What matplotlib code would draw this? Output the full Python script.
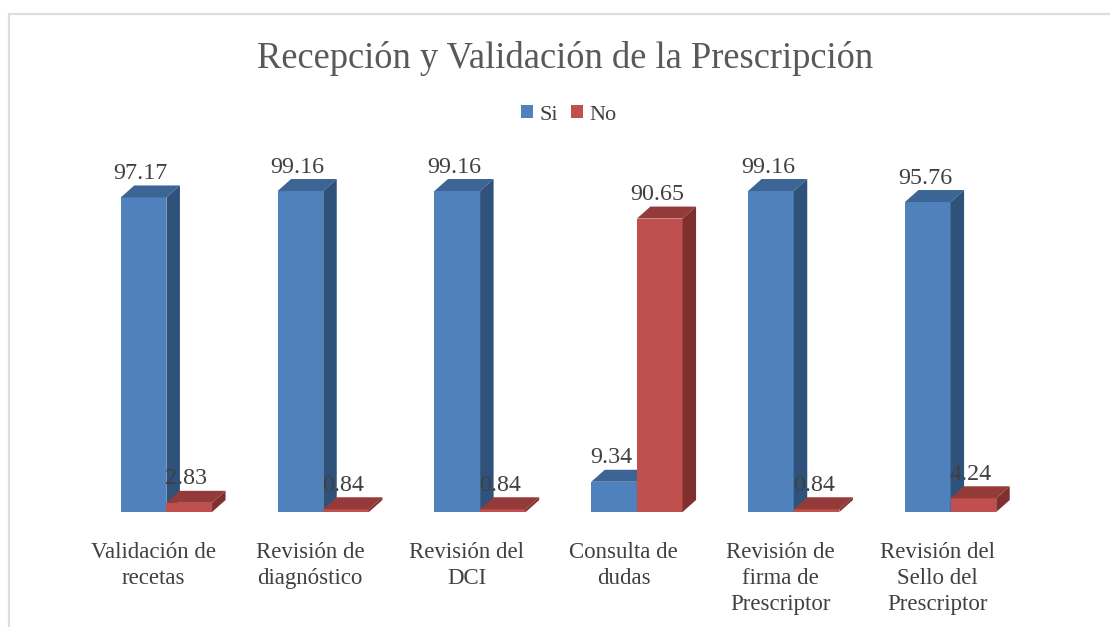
import matplotlib
matplotlib.use("Agg")
import matplotlib.pyplot as plt
from matplotlib.patches import Rectangle, Patch

categories = ["Validación de\nrecetas", "Revisión de\ndiagnóstico", "Revisión del\nDCI",
              "Consulta de\ndudas", "Revisión de\nfirma de\nPrescriptor",
              "Revisión del\nSello del\nPrescriptor"]
si = [97.17, 99.16, 99.16, 9.34, 99.16, 95.76]
no = [2.83, 0.84, 0.84, 90.65, 0.84, 4.24]
series = ["Si", "No"]
title = "Recepción y Validación de la Prescripción"

W, H = 1110, 627
FONT = "Liberation Serif"
plt.rcParams["font.family"] = [FONT, "DejaVu Serif"]
fig = plt.figure(figsize=(W / 100, H / 100), dpi=100)

# axes placed so that y=0 is at pixel 512 and y=100 at pixel 188
L, R, B, T = 88, 1029, 512, 188.3
ax = fig.add_axes([L / W, 1 - B / H, (R - L) / W, (B - T) / H])
ax.set_xlim(-0.5, 5.5)
ax.set_ylim(0, 100)
ax.axis("off")

bw = 0.291
dx = 13.5 / ((R - L) / 6)
dy = 12 / ((B - T) / 100)


def bar3d(x, v, front, top, side):
    ax.bar(x, v, bw, align="edge", color=front, linewidth=0, zorder=3, clip_on=False)
    ax.fill([x, x + dx, x + bw + dx, x + bw], [v, v + dy, v + dy, v], color=top, lw=0, zorder=3, clip_on=False)
    ax.fill([x + bw, x + bw + dx, x + bw + dx, x + bw], [0, dy, v + dy, v], color=side, lw=0, zorder=3, clip_on=False)


C_SI = ("#4F81BD", "#3C6494", "#2F527B")
C_NO = ("#C0504D", "#943B39", "#7F2F2D")
for i, (a, b) in enumerate(zip(si, no)):
    bar3d(i - bw, a, *C_SI)
    bar3d(i, b, *C_NO)
for i, (a, b) in enumerate(zip(si, no)):
    for x, v in ((i - bw / 2, a), (i + bw / 2, b)):
        ax.annotate(f"{v:.2f}", (x, v), xytext=(-2, 17.2), textcoords="offset points",
                    ha="center", va="center", fontsize=17.3, color="#404040", zorder=5,
                    annotation_clip=False)
    ax.annotate(categories[i], (i, 0), xytext=(-9.5, -21.3), textcoords="offset points",
                ha="center", va="top", fontsize=16.5, color="#404040",
                linespacing=1.31, annotation_clip=False)

fig.text(565 / W, 1 - 58 / H, title, ha="center", va="center", fontsize=26.3, color="#595959")

handles = [Patch(facecolor=C_SI[0]), Patch(facecolor=C_NO[0])]
fig.legend(handles, series, loc="center", bbox_to_anchor=(569 / W, 1 - 115 / H), ncol=2, frameon=False,
           fontsize=16, labelcolor="#404040", handlelength=0.54, handleheight=0.54,
           handletextpad=0.28, columnspacing=0.6)

fig.add_artist(Rectangle((8.5 / W, -0.05), 1.1, 1 - 13.5 / H + 0.05, transform=fig.transFigure,
                         facecolor="none", edgecolor="#DDDDDD", linewidth=1.6))
fig.savefig("out.png", dpi=100)
